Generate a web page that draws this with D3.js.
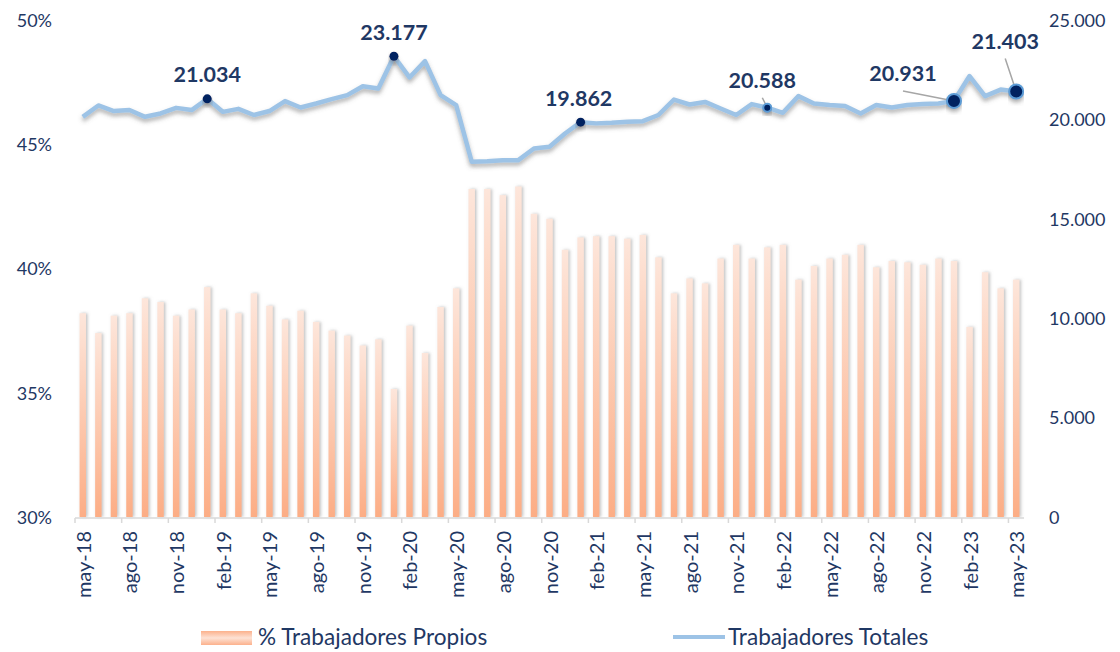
<!DOCTYPE html>
<html>
<head>
<meta charset="utf-8">
<script src="https://cdn.jsdelivr.net/npm/d3@7"></script>
<style>
  body { margin: 0; background: #fff; }
  svg text { font-family: Lato, "Open Sans", sans-serif; }
</style>
</head>
<body>
<svg id="chart"></svg>
<script>
const width = 1120;
const height = 652;

// meses (may-18 .. may-23)
const months = ['may-18','jun-18','jul-18','ago-18','sep-18','oct-18','nov-18','dic-18',
  'ene-19','feb-19','mar-19','abr-19','may-19','jun-19','jul-19','ago-19','sep-19','oct-19','nov-19','dic-19',
  'ene-20','feb-20','mar-20','abr-20','may-20','jun-20','jul-20','ago-20','sep-20','oct-20','nov-20','dic-20',
  'ene-21','feb-21','mar-21','abr-21','may-21','jun-21','jul-21','ago-21','sep-21','oct-21','nov-21','dic-21',
  'ene-22','feb-22','mar-22','abr-22','may-22','jun-22','jul-22','ago-22','sep-22','oct-22','nov-22','dic-22',
  'ene-23','feb-23','mar-23','abr-23','may-23'];

// % Trabajadores Propios
const pctPropios = [38.2, 37.4, 38.1, 38.2, 38.8, 38.65, 38.1, 38.35,
  39.25, 38.35, 38.2, 39.0, 38.5, 37.95, 38.3, 37.85, 37.5, 37.3, 36.9, 37.15,
  35.15, 37.7, 36.6, 38.45, 39.2, 43.2, 43.2, 42.95, 43.3, 42.2, 42.0, 40.75,
  41.25, 41.3, 41.3, 41.2, 41.35, 40.45, 39.0, 39.6, 39.4, 40.4, 40.95, 40.4,
  40.85, 40.95, 39.55, 40.1, 40.4, 40.55, 40.95, 40.05, 40.3, 40.25, 40.15, 40.4,
  40.3, 37.65, 39.85, 39.2, 39.55];

// Trabajadores Totales
const totales = [20130, 20700, 20420, 20470, 20130, 20300, 20580, 20470,
  21034, 20380, 20530, 20220, 20420, 20920, 20600, 20800, 21020, 21220, 21670, 21550,
  23177, 22110, 22930, 21220, 20720, 17870, 17900, 17950, 17950, 18540, 18620, 19290,
  19862, 19800, 19830, 19880, 19910, 20220, 21000, 20750, 20880, 20550, 20220, 20770,
  20588, 20330, 21170, 20800, 20720, 20670, 20300, 20720, 20600, 20720, 20770, 20800,
  20931, 22180, 21170, 21500, 21403];

// puntos con etiqueta
const labeled = ['ene-19', 'ene-20', 'ene-21', 'ene-22', 'ene-23', 'may-23'];

const leftTicks = [0.30, 0.35, 0.40, 0.45, 0.50];
const rightTicks = [0, 5000, 10000, 15000, 20000, 25000];

const navy = '#1f3864';
const svg = d3.select('#chart').attr('width', width).attr('height', height);

const defs = svg.append('defs');
const grad = defs.append('linearGradient').attr('id', 'barGrad')
  .attr('x1', 0).attr('y1', 0).attr('x2', 0).attr('y2', 1);
grad.append('stop').attr('offset', '0%').attr('stop-color', '#fde6db');
grad.append('stop').attr('offset', '100%').attr('stop-color', '#fcad85');

const lgGrad = defs.append('linearGradient').attr('id', 'legGrad')
  .attr('x1', 0).attr('y1', 0).attr('x2', 0).attr('y2', 1);
lgGrad.append('stop').attr('offset', '0%').attr('stop-color', '#fcb18c');
lgGrad.append('stop').attr('offset', '50%').attr('stop-color', '#fde2d5');
lgGrad.append('stop').attr('offset', '100%').attr('stop-color', '#fcb18c');

const barShadow = defs.append('filter').attr('id', 'barShadow')
  .attr('x', '-100%').attr('y', '-10%').attr('width', '300%').attr('height', '120%');
barShadow.append('feDropShadow').attr('dx', 1.5).attr('dy', 0).attr('stdDeviation', 1.6)
  .attr('flood-color', '#808080').attr('flood-opacity', 0.5);

const lineShadow = defs.append('filter').attr('id', 'lineShadow')
  .attr('x', '-5%').attr('y', '-50%').attr('width', '110%').attr('height', '200%');
lineShadow.append('feDropShadow').attr('dx', 0).attr('dy', 3).attr('stdDeviation', 2)
  .attr('flood-color', '#606060').attr('flood-opacity', 0.5);

const plot = { left: 75, right: 1024, top: 20, bottom: 517 };

const yL = d3.scaleLinear().domain([0.30, 0.50]).range([plot.bottom, plot.top]);
const yR = d3.scaleLinear().domain([0, 25000]).range([plot.bottom, plot.top]);
const x = d3.scaleBand().domain(months).range([plot.left, plot.right]);
const step = x.step();
const cx = m => x(m) + step / 2;

// eje izquierdo
svg.append('g')
  .attr('transform', `translate(${plot.left - 20},0)`)
  .call(d3.axisLeft(yL).tickValues(leftTicks).tickSize(0).tickFormat(d3.format('.0%')))
  .call(g => g.select('.domain').remove())
  .selectAll('text').attr('fill', navy).attr('font-size', 18).attr('dy', '0.35em');

// eje derecho
svg.append('g')
  .attr('transform', `translate(${plot.right + 22},0)`)
  .call(d3.axisRight(yR).tickValues(rightTicks).tickSize(0)
    .tickFormat(d => d3.format(',')(d).replace(/,/g, '.')))
  .call(g => g.select('.domain').remove())
  .selectAll('text').attr('fill', navy).attr('font-size', 18).attr('dy', '0.35em');

// barras
svg.append('g').selectAll('rect')
  .data(months)
  .join('rect')
  .attr('x', d => cx(d) - 3.2)
  .attr('width', 6.4)
  .attr('y', (d, i) => yL(pctPropios[i] / 100))
  .attr('height', (d, i) => plot.bottom - yL(pctPropios[i] / 100))
  .attr('fill', 'url(#barGrad)')
  .attr('filter', 'url(#barShadow)');

// eje x
const xg = svg.append('g');
xg.append('line')
  .attr('x1', plot.left).attr('x2', plot.right)
  .attr('y1', plot.bottom + 1).attr('y2', plot.bottom + 1)
  .attr('stroke', '#d9d9d9').attr('stroke-width', 1.5);
const tickMonths = months.filter((d, i) => i % 3 === 0);
xg.selectAll('line.tick')
  .data(tickMonths)
  .join('line')
  .attr('class', 'tick')
  .attr('x1', d => x(d)).attr('x2', d => x(d))
  .attr('y1', plot.bottom + 1).attr('y2', plot.bottom + 6)
  .attr('stroke', '#d9d9d9').attr('stroke-width', 1.5);
xg.selectAll('text')
  .data(tickMonths)
  .join('text')
  .attr('transform', d => `translate(${cx(d) + 1},531) rotate(-90)`)
  .attr('text-anchor', 'end')
  .attr('dy', '0.35em')
  .attr('font-size', 20)
  .attr('fill', navy)
  .text(d => d);

// línea
const line = d3.line()
  .x((d, i) => cx(months[i]))
  .y(d => yR(d));
svg.append('path')
  .datum(totales)
  .attr('d', line)
  .attr('fill', 'none')
  .attr('stroke', '#9dc3e6')
  .attr('stroke-width', 4.5)
  .attr('stroke-linejoin', 'round')
  .attr('filter', 'url(#lineShadow)');

// etiquetas (desplazamiento del texto respecto al punto)
const labelOffsets = [[0, -17], [0, -16], [-2, -16], [-5, -20], [-51, -20], [-11, -43]];
const leaders = [false, false, false, true, true, true];
const markerR = [4.5, 4.5, 4.5, 4, 7, 7];

labeled.forEach((m, k) => {
  const i = months.indexOf(m);
  const px = cx(m), py = yR(totales[i]);
  const [dx, dy] = labelOffsets[k];
  if (leaders[k]) {
    svg.append('line')
      .attr('x1', px + dx).attr('y1', py + dy + 10)
      .attr('x2', px).attr('y2', py)
      .attr('stroke', '#a6a6a6').attr('stroke-width', 1.5);
  }
  svg.append('circle')
    .attr('cx', px).attr('cy', py).attr('r', markerR[k])
    .attr('fill', '#002060')
    .attr('stroke', k >= 3 ? '#5b9bd5' : 'none')
    .attr('stroke-width', k >= 3 ? 2 : 0)
    .attr('filter', 'url(#lineShadow)');
  svg.append('text')
    .attr('x', px + dx).attr('y', py + dy)
    .attr('text-anchor', 'middle')
    .attr('font-size', 21.5).attr('font-weight', 'bold')
    .attr('fill', navy)
    .text(d3.format(',')(totales[i]).replace(/,/g, '.'));
});

// leyenda
const leg = svg.append('g');
leg.append('rect').attr('x', 201).attr('y', 631).attr('width', 51).attr('height', 14)
  .attr('fill', 'url(#legGrad)');
leg.append('text').attr('x', 258).attr('y', 645).attr('font-size', 22.6).attr('fill', navy)
  .text('% Trabajadores Propios');
leg.append('line').attr('x1', 673).attr('x2', 725).attr('y1', 637).attr('y2', 637)
  .attr('stroke', '#9dc3e6').attr('stroke-width', 4);
leg.append('text').attr('x', 728).attr('y', 645).attr('font-size', 22.6).attr('fill', navy)
  .text('Trabajadores Totales');
</script>
</body>
</html>
